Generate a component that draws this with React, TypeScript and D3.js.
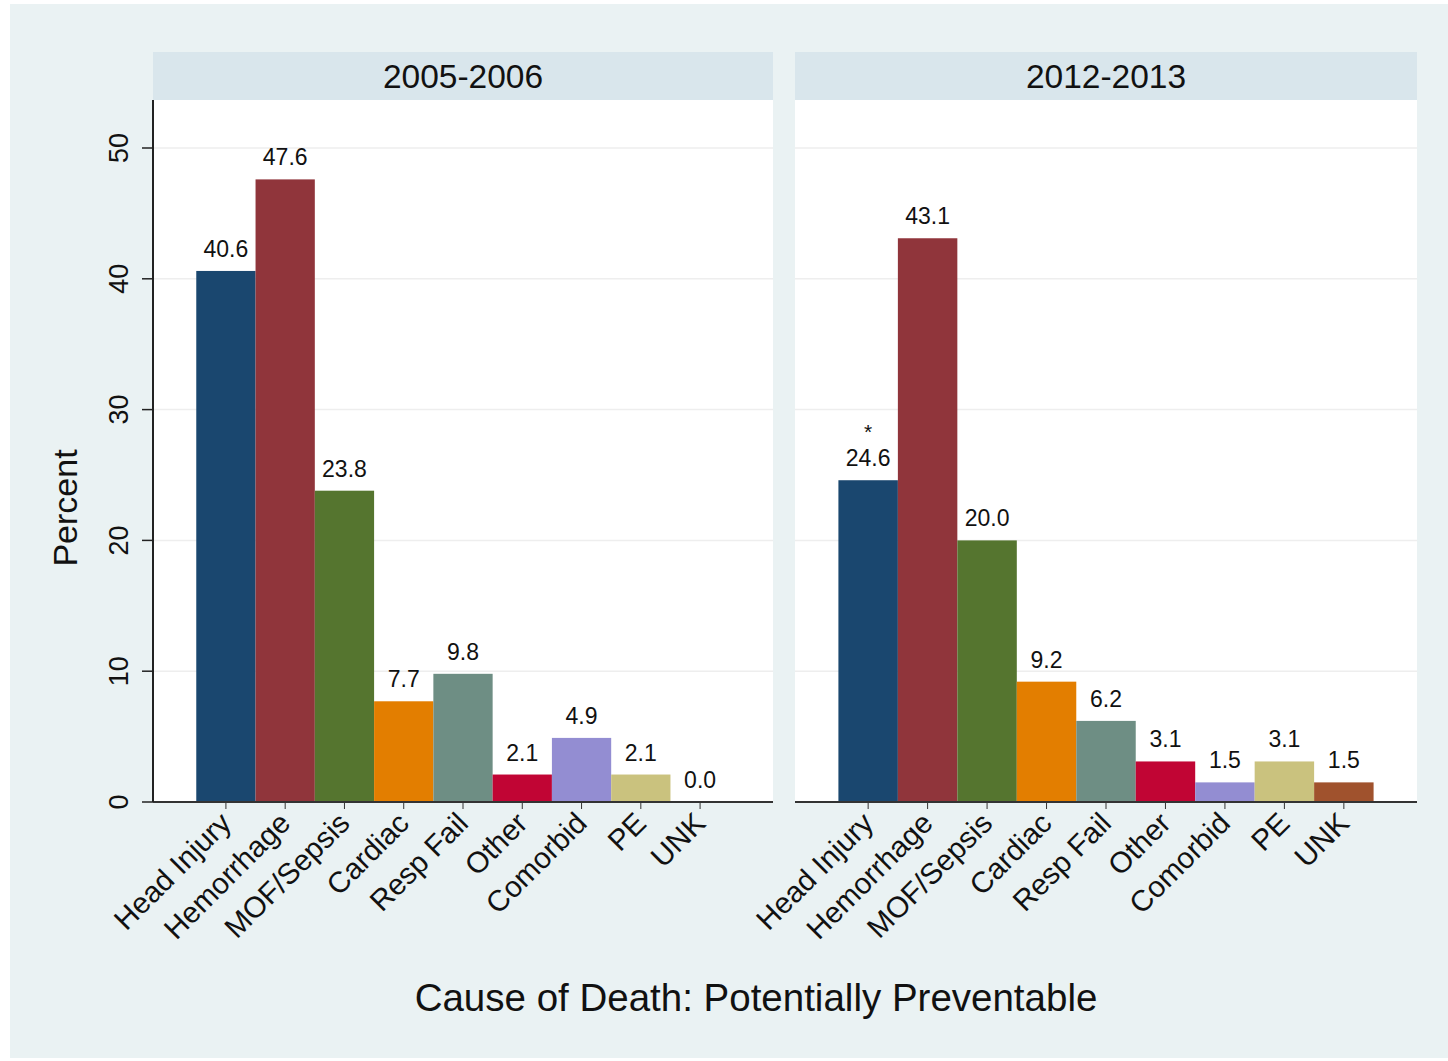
import React from "react";
import * as d3 from "d3";

const categories = ["Head Injury", "Hemorrhage", "MOF/Sepsis", "Cardiac", "Resp Fail", "Other", "Comorbid", "PE", "UNK"];
const panels = ["2005-2006", "2012-2013"];
const values2005 = [40.6, 47.6, 23.8, 7.7, 9.8, 2.1, 4.9, 2.1, 0.0];
const values2012 = [24.6, 43.1, 20.0, 9.2, 6.2, 3.1, 1.5, 3.1, 1.5];
const starred2012 = ["Head Injury"];
const yTicks = [0, 10, 20, 30, 40, 50];
const colors = ["#1a476f", "#90353b", "#55752f", "#e37e00", "#6e8e84", "#c10534", "#938dd2", "#cac27e", "#a0522d"];

const W = 1448;
const H = 1061;
const plotTop = 100;
const plotBottom = 802;
const headerTop = 52;
const panelX = [[153, 773], [795, 1417]];
const font = "'Liberation Sans', Arial, Helvetica, sans-serif";

export default function App() {
  const y = d3.scaleLinear().domain([0, 50]).range([plotBottom, 148]);
  const color = d3.scaleOrdinal<string, string>().domain(categories).range(colors);
  const data = [values2005, values2012];

  return (
    <svg width={W} height={H} style={{ position: "absolute", left: 0, top: 0 }} fontFamily={font}>
      <rect x={0} y={0} width={W} height={H} fill="#ffffff" />
      <rect x={10} y={4} width={W - 10} height={H - 7} fill="#eaf2f3" />
      {panels.map((p, pi) => {
        const [x0, x1] = panelX[pi];
        const x = d3.scaleBand<string>().domain(categories).range([x0, x1]).paddingInner(0).paddingOuter(0.73);
        const vals = data[pi];
        return (
          <g key={p}>
            <rect x={x0} y={headerTop} width={x1 - x0} height={plotTop - headerTop} fill="#d9e6ec" />
            <text x={(x0 + x1) / 2} y={88} textAnchor="middle" fontSize={33.5} fill="#111">{p}</text>
            <rect x={x0} y={plotTop} width={x1 - x0} height={plotBottom - plotTop} fill="#ffffff" />
            {yTicks.filter(t => t > 0).map(t => (
              <line key={t} x1={x0} x2={x1} y1={y(t)} y2={y(t)} stroke="#eeeeee" strokeWidth={1.5} />
            ))}
            {categories.map((c, i) => {
              const v = vals[i];
              const bx = x(c)!;
              const bw = x.bandwidth();
              const cx = bx + bw / 2;
              return (
                <g key={c}>
                  {v > 0 && <rect x={bx} y={y(v)} width={bw} height={plotBottom - y(v)} fill={color(c)} />}
                  <text x={cx} y={y(v) - 14} textAnchor="middle" fontSize={23} fill="#111">{v.toFixed(1)}</text>
                  {pi === 1 && starred2012.includes(c) && (
                    <text x={cx} y={y(v) - 41} textAnchor="middle" fontSize={21} fill="#111">*</text>
                  )}
                  <line x1={cx} x2={cx} y1={plotBottom} y2={plotBottom + 7} stroke="#333" strokeWidth={1} />
                  <text
                    transform={`translate(${cx + 7},${plotBottom + 23}) rotate(-45)`}
                    textAnchor="end"
                    fontSize={29.5}
                    fill="#111"
                  >
                    {c}
                  </text>
                </g>
              );
            })}
            <line x1={x0} x2={x1} y1={plotBottom} y2={plotBottom} stroke="#333" strokeWidth={2} />
          </g>
        );
      })}
      <line x1={153} x2={153} y1={plotTop} y2={plotBottom} stroke="#222" strokeWidth={2} />
      {yTicks.map(t => (
        <g key={t}>
          <line x1={142} x2={153} y1={y(t)} y2={y(t)} stroke="#222" strokeWidth={1.5} />
          <text transform={`translate(128,${y(t)}) rotate(-90)`} textAnchor="middle" fontSize={27} fill="#111">{t}</text>
        </g>
      ))}
      <text transform={`translate(77,508) rotate(-90)`} textAnchor="middle" fontSize={34} fill="#111">Percent</text>
      <text x={756} y={1011} textAnchor="middle" fontSize={38.5} fill="#111">Cause of Death: Potentially Preventable</text>
    </svg>
  );
}
